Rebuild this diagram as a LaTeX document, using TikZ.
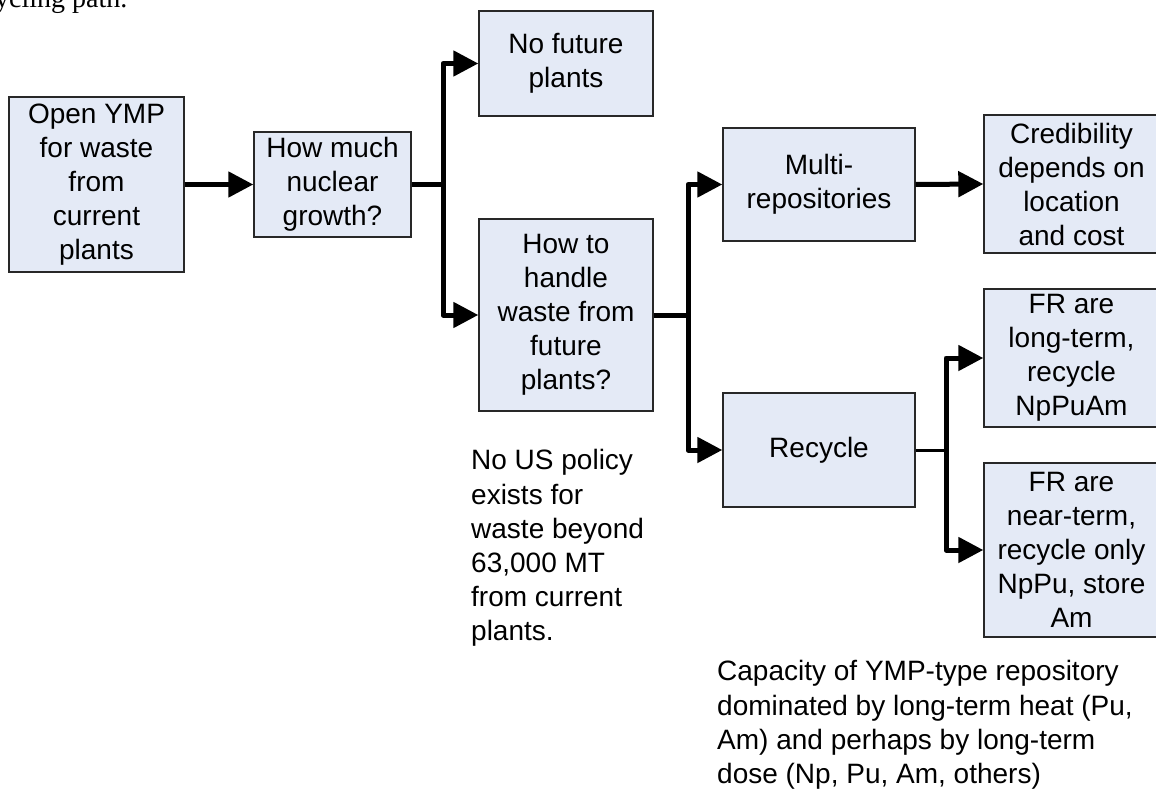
\documentclass[tikz,border=0pt]{standalone}
\usepackage{fontspec}
\setmainfont{Liberation Sans}
\newfontfamily\serifface{Liberation Serif}
\usetikzlibrary{arrows.meta}
\definecolor{boxfill}{RGB}{228,234,246}
\definecolor{boxline}{RGB}{40,40,40}
\begin{document}
\begin{tikzpicture}[x=1pt,y=-1pt,
  box/.style={draw=boxline, line width=1.4pt, fill=boxfill, inner sep=0pt, align=center, font=\fontsize{28}{34}\selectfont},
  conn/.style={line width=5pt, line join=round},
  thinconn/.style={line width=3pt},
  arr/.style={conn, -{Triangle[length=25pt,width=25pt]}},
  note/.style={inner sep=0pt, align=left, anchor=north west, font=\fontsize{28}{34.2}\selectfont}]
\useasboundingbox (0,0) rectangle (1156,789);

\node[anchor=base west, inner sep=0pt, font=\serifface\fontsize{28}{34}\selectfont] (top) at (-5,7.5) {ycling path.};

\node[box, minimum width=175pt, minimum height=175pt] (b1) at (96.5,184.5) {Open YMP\\for waste\\from\\current\\plants};
\node[box, minimum width=157pt, minimum height=105pt] (b2) at (332.5,184.5) {How much\\nuclear\\growth?};
\node[box, minimum width=174pt, minimum height=105pt] (b3) at (566,63.5) {No future\\plants};
\node[box, minimum width=174pt, minimum height=192pt] (b4) at (566,315) {How to\\handle\\waste from\\future\\plants?};
\node[box, minimum width=192pt, minimum height=113pt] (b5) at (819,184.5) {Multi-\\repositories};
\node[box, minimum width=175pt, minimum height=138pt] (b6) at (1071.5,184) {Credibility\\depends on\\location\\and cost};
\node[box, minimum width=192pt, minimum height=114pt] (b7) at (819,450) {Recycle};
\node[box, minimum width=175pt, minimum height=138pt] (b8) at (1071.5,358) {FR are\\long-term,\\recycle\\NpPuAm};
\node[box, minimum width=175pt, minimum height=174pt] (b9) at (1071.5,550) {FR are\\near-term,\\recycle only\\NpPu, store\\Am};

\node[note] (n1) at (471,449.5) {No US policy\\exists for\\waste beyond\\63,000 MT\\from current\\plants.};
\node[note] (n2) at (717,660.5) {Capacity of YMP-type repository\\dominated by long-term heat (Pu,\\Am) and perhaps by long-term\\dose (Np, Pu, Am, others)};

\coordinate (f1) at (443,184.5);
\coordinate (f2) at (688,315);
\coordinate (f3) at (946,450);

\draw[arr] (b1.east) -- (b2.west);
\draw[conn] (b2.east) -- (f1);
\draw[arr] (f1) |- (b3.west);
\draw[arr] (f1) |- (b4.west);
\draw[conn] (b4.east) -- (f2);
\draw[arr] (f2) |- (b5.west);
\draw[arr] (f2) |- (b7.west);
\draw[arr] (b5.east) -- (b6.west);
\draw[thinconn] (b7.east) -- (f3);
\draw[arr] (f3) |- (b8.west);
\draw[arr] (f3) |- (b9.west);
\end{tikzpicture}
\end{document}
